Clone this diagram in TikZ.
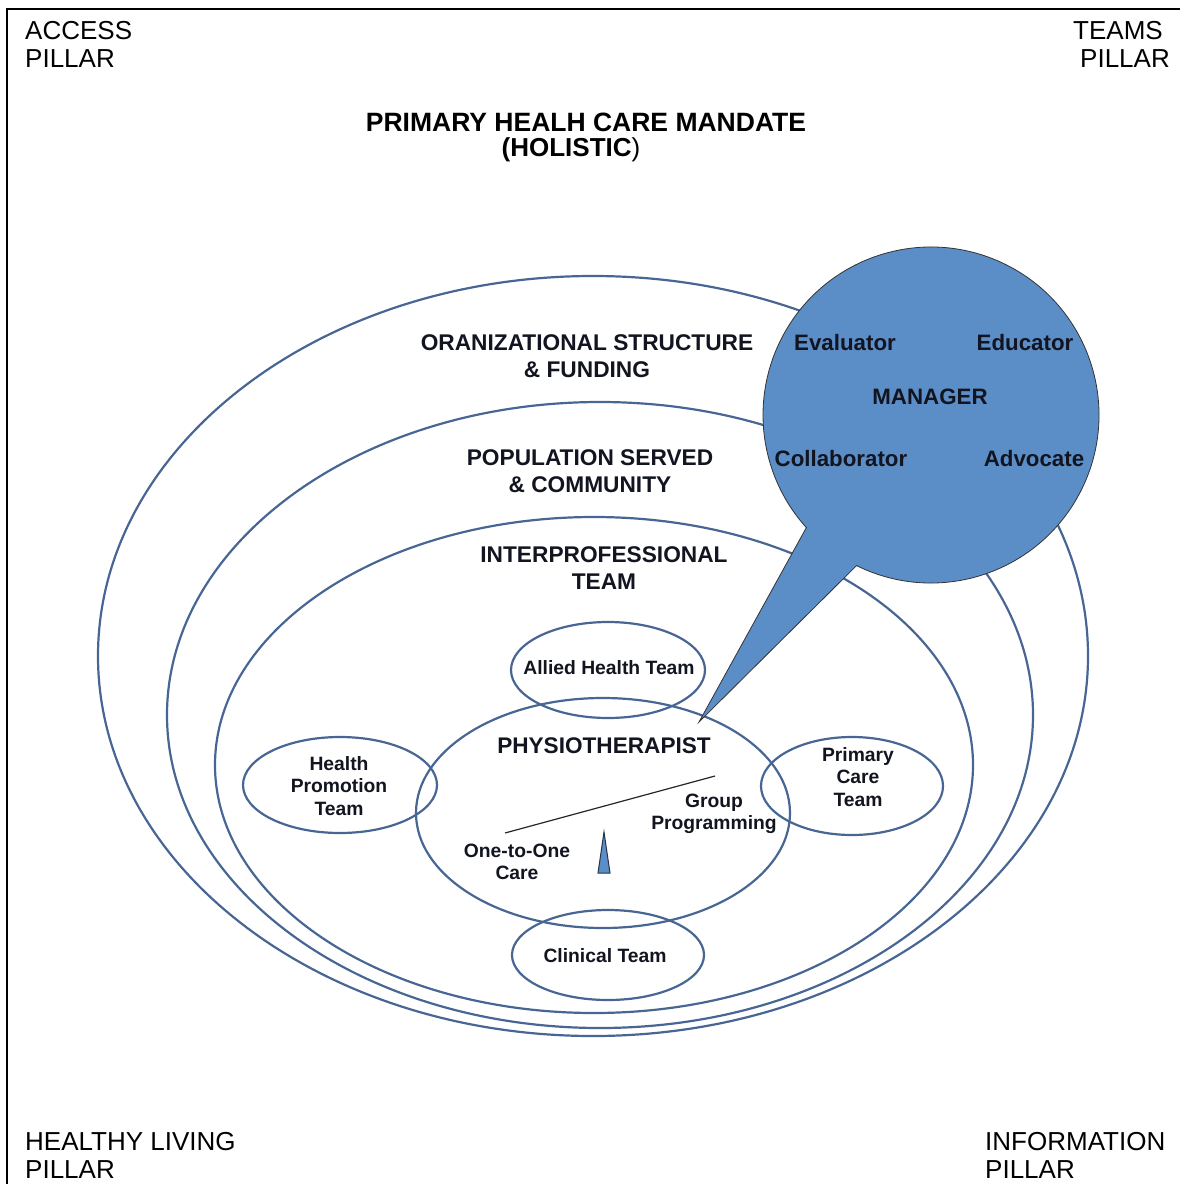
\documentclass[tikz,border=0pt]{standalone}
\usepackage{fontspec}
\setmainfont{Liberation Sans}
\usetikzlibrary{shapes.geometric}
\definecolor{ringblue}{RGB}{72,102,148}
\definecolor{mgrblue}{RGB}{91,141,199}
\definecolor{inktext}{RGB}{18,20,32}
\tikzset{
  ring/.style={ellipse, draw=ringblue, line width=2.2pt, inner sep=0pt},
  pillar/.style={font=\fontsize{26}{28}\selectfont, inner sep=0pt, align=left},
  layer/.style={font=\fontsize{22.7}{27}\bfseries\selectfont, align=center, inner sep=0pt, text=inktext},
  role/.style={font=\fontsize{22.3}{24}\bfseries\selectfont, inner sep=0pt, text=inktext},
  team/.style={font=\fontsize{19.3}{22.5}\bfseries\selectfont, align=center, inner sep=0pt, text=inktext},
}
\begin{document}
\begin{tikzpicture}[x=1pt, y=-1pt]
    \useasboundingbox (0,0) rectangle (1180,1184);
    \draw[line width=2pt] (7,1184) -- (7,9) -- (1180,9);

    \coordinate (mgr)   at (931,415);
    \coordinate (tip)   at (699,722);
    \coordinate (beamL) at (505,833);
    \coordinate (beamR) at (715,776);
    \coordinate (pivot) at (604,832);

    \node[pillar, anchor=west] (access) at (25,44) {ACCESS\\PILLAR};
    \node[pillar, anchor=east, align=right] (teams) at (1170,44) {TEAMS\hspace*{7pt}\\PILLAR};
    \node[pillar, anchor=west] (healthy) at (25,1155) {HEALTHY LIVING\\PILLAR};
    \node[pillar, anchor=west] (info) at (985,1155) {INFORMATION\\PILLAR};
    \node[font=\fontsize{26.5}{28}\bfseries\selectfont, inner sep=0pt] (mandate) at (586,122) {PRIMARY HEALH CARE MANDATE};
    \node[font=\fontsize{26}{28}\bfseries\selectfont, inner sep=0pt] (holistic) at (571,150) {(HOLISTIC{\mdseries)}};

    \node[ring, minimum width=990, minimum height=760] (org) at (593,656) {};
    \node[ring, minimum width=866, minimum height=626] (pop) at (600,715) {};
    \node[ring, minimum width=758, minimum height=496] (ipt) at (594,765) {};
    \node[ring, minimum width=374, minimum height=230] (physio) at (603,813) {};
    \node[ring, minimum width=194, minimum height=96] (allied) at (608,670) {};
    \node[ring, minimum width=192, minimum height=90] (clinical) at (608,955) {};
    \node[ring, minimum width=194, minimum height=96] (promo) at (340,785) {};
    \node[ring, minimum width=182, minimum height=98] (primary) at (852,786) {};

    \node[layer] (orglbl) at (587,356) {ORANIZATIONAL STRUCTURE\\\& FUNDING};
    \node[layer] (poplbl) at (590,471) {POPULATION SERVED\\\& COMMUNITY};
    \node[layer] (iptlbl) at (604,568) {INTERPROFESSIONAL\\TEAM};

    \filldraw[fill=mgrblue, draw=black!80, line width=0.8pt] (mgr) ++(116.3:168)
        arc[start angle=116.3, end angle=-222.1, radius=168] -- (tip) -- cycle;
    \node[role] (evaluator) at (845,343) {Evaluator};
    \node[role] (educator) at (1025,343) {Educator};
    \node[role] (manager) at (930,397) {MANAGER};
    \node[role] (collab) at (841,459) {Collaborator};
    \node[role] (advocate) at (1034,459) {Advocate};

    \node[role, font=\fontsize{22.6}{25}\bfseries\selectfont] (physiolbl) at (604,746) {PHYSIOTHERAPIST};
    \node[team] (alliedlbl) at (609,668) {Allied Health Team};
    \node[team] (clinicallbl) at (605,956) {Clinical Team};
    \node[team] (promolbl) at (339,786) {Health\\Promotion\\Team};
    \node[team] (primarylbl) at (858,777) {Primary\\Care\\Team};
    \node[team] (grouplbl) at (714,814) {Group\\Programming};
    \node[team] (onelbl) at (517,862) {One-to-One\\Care};

    \draw[line width=1.2pt, black!85] (beamL) -- (beamR);
    \filldraw[fill=mgrblue, draw=ringblue!50!black, line width=1pt] (pivot) -- (610,873) -- (598,873) -- cycle;
\end{tikzpicture}
\end{document}
